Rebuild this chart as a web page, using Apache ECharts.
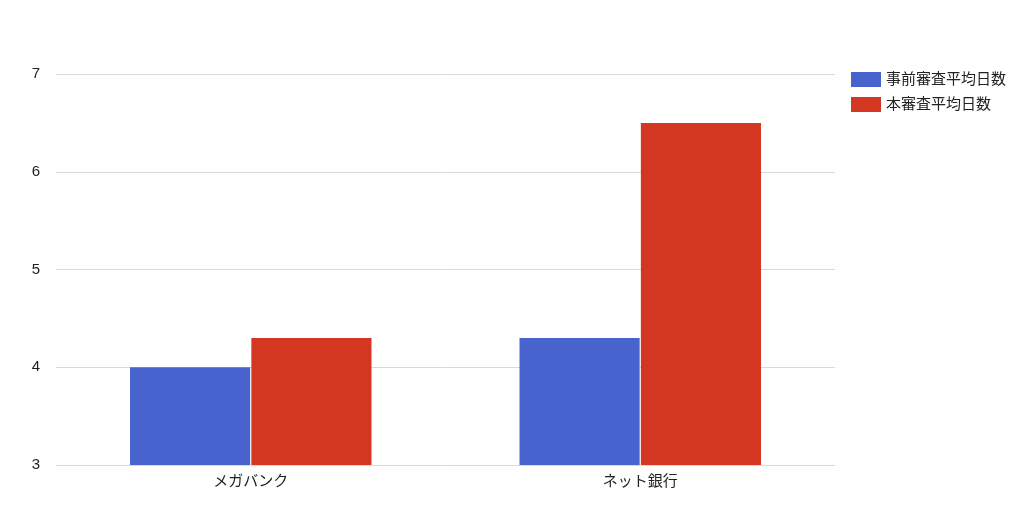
<!DOCTYPE html>
<html><head><meta charset="utf-8">
<script src="https://cdn.jsdelivr.net/npm/echarts@6/dist/echarts.min.js"></script>
<style>html,body{margin:0;padding:0;background:#fff}#c{width:1024px;height:530px}</style>
</head><body><div id="c"></div>
<script>
const categories = ['メガバンク', 'ネット銀行'];
const seriesNames = ['事前審査平均日数', '本審査平均日数'];
const preReview = [4.0, 4.3];
const mainReview = [4.3, 6.5];
const yTicks = { min: 3, max: 7, interval: 1 };

const font = 'Arial, "Liberation Sans", "Noto Sans CJK JP", sans-serif';
const chart = echarts.init(document.getElementById('c'));
chart.setOption({
  animation: false,
  textStyle: { fontFamily: font },
  grid: { left: 56, right: 189, top: 74, bottom: 65, containLabel: false },
  legend: {
    orient: 'vertical', left: 846, top: 67, itemWidth: 30, itemHeight: 15, itemGap: 10,
    icon: 'rect', textStyle: { fontSize: 15, color: '#222', fontFamily: font },
    data: seriesNames
  },
  xAxis: {
    type: 'category', data: categories,
    axisLine: { show: false }, axisTick: { show: false },
    axisLabel: { fontSize: 15, color: '#222', margin: 9, fontFamily: font }
  },
  yAxis: {
    type: 'value', min: yTicks.min, max: yTicks.max, interval: yTicks.interval,
    axisLine: { show: false }, axisTick: { show: false },
    axisLabel: { fontSize: 15, color: '#222', margin: 16, fontFamily: font },
    splitLine: { lineStyle: { color: '#d9d9d9', width: 1 } }
  },
  series: [
    { name: seriesNames[0], type: 'bar', data: preReview, itemStyle: { color: '#4863CD' },
      barGap: '1%', barCategoryGap: '38%' },
    { name: seriesNames[1], type: 'bar', data: mainReview, itemStyle: { color: '#D33722' },
      barGap: '1%', barCategoryGap: '38%' }
  ]
});
</script></body></html>
